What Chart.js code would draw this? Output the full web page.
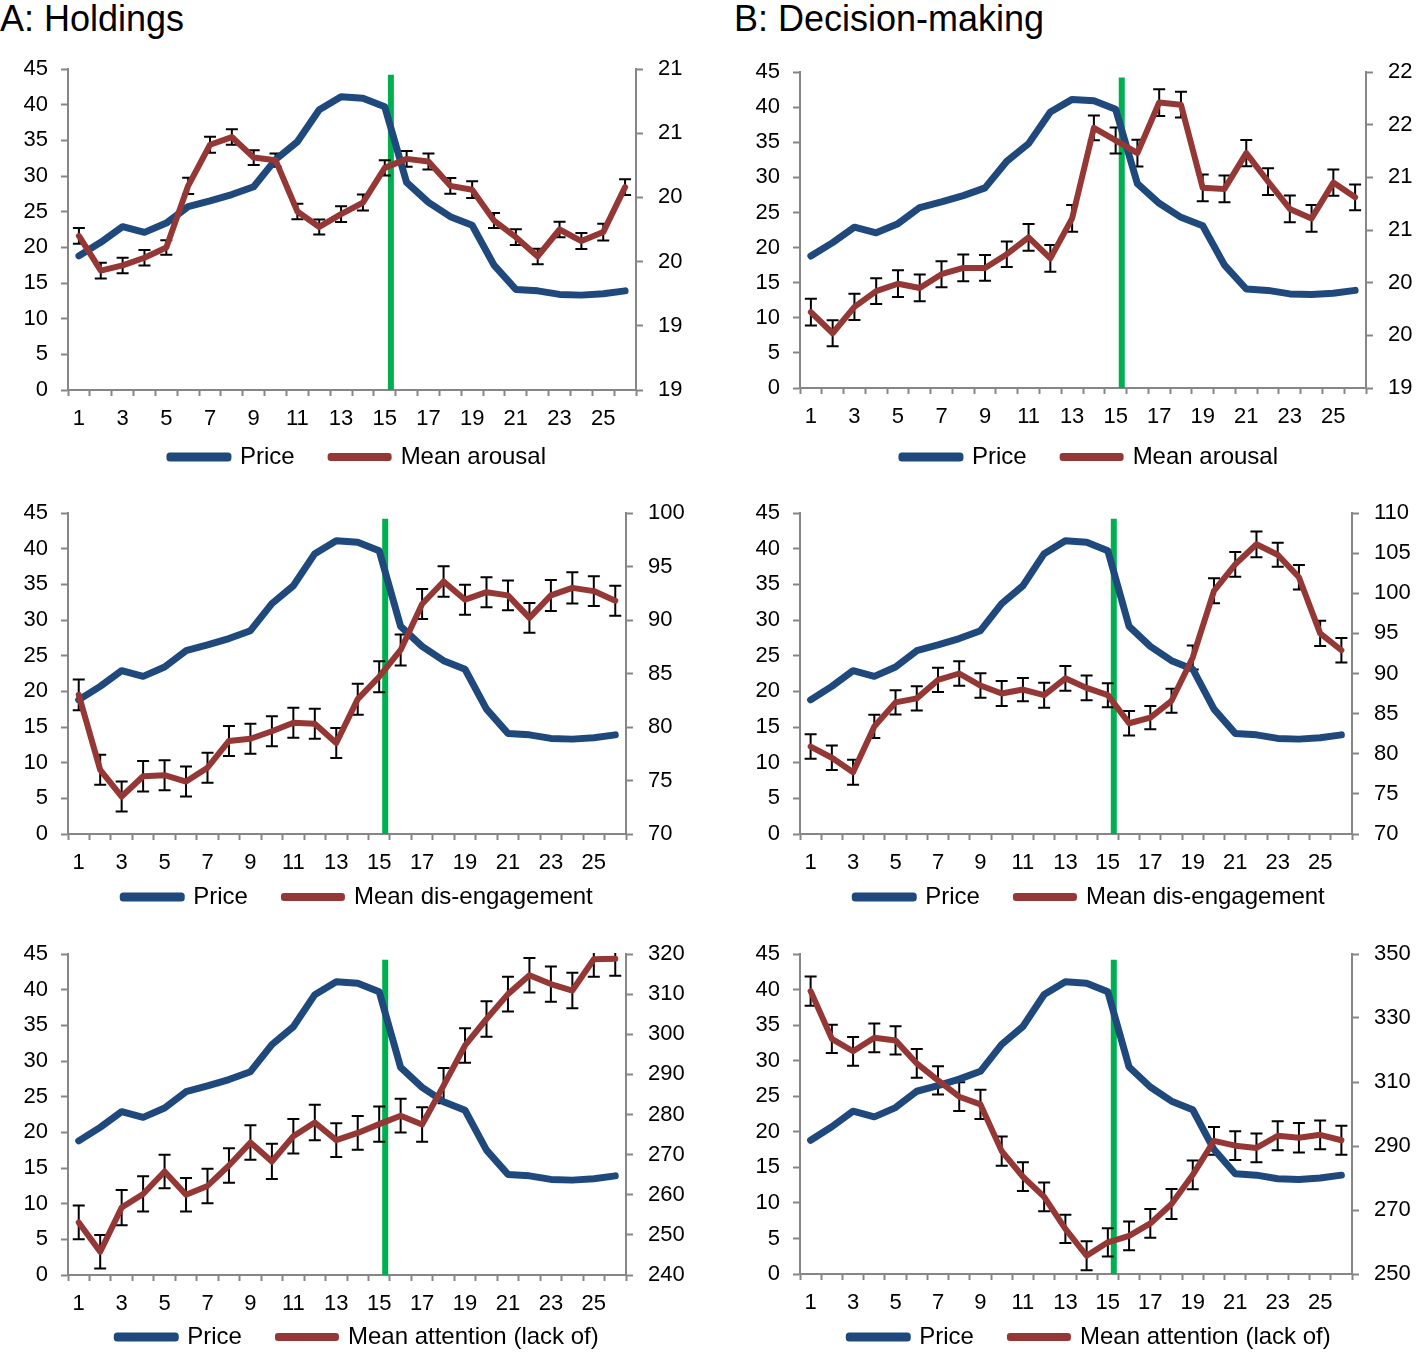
<!DOCTYPE html>
<html>
<head>
<meta charset="utf-8">
<script src="https://cdn.jsdelivr.net/npm/chart.js@4.4.1/dist/chart.umd.min.js"></script>
<style>
  html, body { margin: 0; padding: 0; background: #fff; }
  body { width: 1417px; height: 1354px; position: relative; overflow: hidden; font-family: 'Liberation Sans', Arial, sans-serif; }
  .title { position: absolute; font-size: 36px; line-height: 36px; color: #000; white-space: nowrap; }
  canvas { position: absolute; }
</style>
</head>
<body>
<div class="title" style="left:0;top:1px">A: Holdings</div>
<div class="title" style="left:734px;top:1px">B: Decision-making</div>

<script>
// ── data ─────────────────────────────────────────────────────────
const periods = ['1','2','3','4','5','6','7','8','9','10','11','12','13',
                 '14','15','16','17','18','19','20','21','22','23','24','25','26'];

const price = [18.8, 20.7, 22.9, 22.1, 23.4, 25.7, 26.5, 27.4, 28.5, 32.3, 34.8, 39.3, 41.1,
               40.9, 39.7, 29.1, 26.3, 24.3, 23.1, 17.5, 14.1, 13.9, 13.4, 13.3, 13.5, 13.9];

const arousalHold    = [19.95, 19.68, 19.72, 19.78, 19.86, 20.34, 20.66, 20.72, 20.56, 20.54, 20.14, 20.02, 20.12,
                        20.21, 20.48, 20.55, 20.53, 20.34, 20.31, 20.07, 19.94, 19.79, 20.00, 19.91, 19.98, 20.33];
const arousalHoldErr = [0.061, 0.061, 0.060, 0.061, 0.056, 0.064, 0.062, 0.060, 0.058, 0.052, 0.060, 0.058, 0.062,
                        0.062, 0.060, 0.061, 0.062, 0.061, 0.065, 0.058, 0.061, 0.061, 0.061, 0.062, 0.065, 0.061];

const arousalDec     = [19.97, 19.77, 20.02, 20.17, 20.24, 20.20, 20.33, 20.39, 20.39, 20.52, 20.68, 20.48, 20.86,
                        21.72, 21.60, 21.48, 21.96, 21.94, 21.15, 21.14, 21.48, 21.21, 20.95, 20.86, 21.20, 21.06];
const arousalDecErr  = [0.127, 0.124, 0.124, 0.122, 0.127, 0.127, 0.124, 0.127, 0.122, 0.122, 0.126, 0.127, 0.127,
                        0.118, 0.124, 0.127, 0.127, 0.122, 0.127, 0.127, 0.124, 0.127, 0.127, 0.127, 0.124, 0.122];

const disengHold     = [83.0, 76.0, 73.5, 75.4, 75.5, 74.9, 76.2, 78.7, 78.9, 79.6, 80.4, 80.3, 78.5,
                        82.6, 84.7, 87.2, 91.5, 93.6, 91.9, 92.6, 92.3, 90.2, 92.3, 93.0, 92.7, 91.8];
const disengHoldErr  = [1.43, 1.40, 1.40, 1.43, 1.40, 1.40, 1.40, 1.40, 1.40, 1.40, 1.40, 1.40, 1.40,
                        1.45, 1.45, 1.45, 1.40, 1.43, 1.40, 1.40, 1.40, 1.40, 1.45, 1.46, 1.40, 1.40];

const disengDec      = [80.9, 79.5, 77.7, 83.4, 86.4, 86.9, 89.2, 90.0, 88.5, 87.5, 88.0, 87.3, 89.4,
                        88.2, 87.3, 83.8, 84.5, 86.6, 92.0, 100.3, 103.6, 106.1, 104.8, 102.0, 95.0, 92.9];
const disengDecErr   = [1.52, 1.54, 1.56, 1.45, 1.50, 1.50, 1.52, 1.52, 1.52, 1.56, 1.45, 1.56, 1.54,
                        1.54, 1.50, 1.52, 1.45, 1.50, 1.50, 1.56, 1.54, 1.60, 1.50, 1.52, 1.58, 1.52];

const attnHold       = [253.1, 245.8, 256.8, 260.2, 265.8, 260.0, 262.2, 267.3, 273.0, 268.3, 274.6, 278.0, 273.6,
                        275.4, 277.6, 279.7, 277.5, 287.2, 297.2, 303.8, 310.0, 314.7, 312.5, 310.9, 318.7, 318.8];
const attnHoldErr    = [4.2, 4.2, 4.4, 4.4, 4.2, 4.2, 4.3, 4.3, 4.3, 4.4, 4.3, 4.4, 4.2,
                        4.2, 4.4, 4.2, 4.3, 4.4, 4.3, 4.4, 4.3, 4.3, 4.4, 4.4, 4.4, 4.2];

const attnDec        = [338.4, 323.5, 319.6, 323.8, 323.0, 315.8, 310.5, 305.4, 303.0, 288.4, 280.4, 274.1, 264.1,
                        255.7, 259.9, 261.9, 265.8, 271.9, 281.0, 291.6, 290.1, 289.4, 293.2, 292.6, 293.5, 291.8];
const attnDecErr     = [4.6, 4.4, 4.5, 4.5, 4.4, 4.5, 4.4, 4.5, 4.6, 4.6, 4.5, 4.5, 4.4,
                        4.5, 4.4, 4.5, 4.5, 4.7, 4.5, 4.3, 4.5, 4.5, 4.5, 4.6, 4.5, 4.5];

const priceTicks = { min: 0, max: 45, step: 5 };
const crashAt = 15.28;   // green marker, in period units
const crashTop = 44.2;   // top of marker on the price axis

// ── styling ──────────────────────────────────────────────────────
const AXIS_GREY = '#868686';
const PRICE_BLUE = '#1f497d';
const MEAN_RED = '#953735';
const CRASH_GREEN = '#00b050';
const FONT = "'Liberation Sans', Arial, sans-serif";

// canvas boxes; B canvases run past the right edge so the legend centres like the original
const panels = [
  { label: 'Mean arousal', values: arousalHold, errors: arousalHoldErr, rMin: 18.75, rMax: 21.25, rStep: 0.5,
    left: 0, width: 716, plotLeft: 68, plotRight: 636, plotTop: 69, plotBottom: 390, legendY: 457 },
  { label: 'Mean arousal', values: arousalDec, errors: arousalDecErr, rMin: 19.25, rMax: 22.25, rStep: 0.5,
    left: 720, width: 740, plotLeft: 800, plotRight: 1366, plotTop: 72, plotBottom: 388, legendY: 457 },
  { label: 'Mean dis-engagement', values: disengHold, errors: disengHoldErr, rMin: 70, rMax: 100, rStep: 5,
    left: 0, width: 716, plotLeft: 68, plotRight: 626, plotTop: 513, plotBottom: 834, legendY: 897 },
  { label: 'Mean dis-engagement', values: disengDec, errors: disengDecErr, rMin: 70, rMax: 110, rStep: 5,
    left: 720, width: 740, plotLeft: 800, plotRight: 1352, plotTop: 513, plotBottom: 834, legendY: 897 },
  { label: 'Mean attention (lack of)', values: attnHold, errors: attnHoldErr, rMin: 240, rMax: 320, rStep: 10,
    left: 0, width: 716, plotLeft: 68, plotRight: 626, plotTop: 954, plotBottom: 1275, legendY: 1337 },
  { label: 'Mean attention (lack of)', values: attnDec, errors: attnDecErr, rMin: 250, rMax: 350, rStep: 20,
    left: 720, width: 740, plotLeft: 800, plotRight: 1352, plotTop: 954, plotBottom: 1274, legendY: 1337 }
];

function makePanel(p) {
  const areaTop = 30, legendPad = 36, legendFont = 24;
  const legendH = legendFont + legendPad + 10;
  const xAxisH = Math.round(p.legendY - p.plotBottom - (legendPad + legendFont / 2));
  const canvasH = areaTop + (p.plotBottom - p.plotTop) + xAxisH + legendH;
  const yLeftW = p.plotLeft - p.left;
  const yRightW = (p.left + p.width) - p.plotRight;

  const canvas = document.createElement('canvas');
  canvas.width = p.width;
  canvas.height = canvasH;
  canvas.style.left = p.left + 'px';
  canvas.style.top = (p.plotTop - areaTop) + 'px';
  canvas.style.width = p.width + 'px';
  canvas.style.height = canvasH + 'px';
  document.body.appendChild(canvas);

  // green crash marker + error bars, both under the lines
  const underlay = {
    id: 'underlay',
    beforeDatasetsDraw(chart) {
      const { ctx, chartArea } = chart;
      const xs = chart.scales.x, yl = chart.scales.y, yr = chart.scales.y2;
      const i0 = Math.floor(crashAt) - 1;
      const frac = crashAt - Math.floor(crashAt);
      const gx = xs.getPixelForValue(i0) + frac * (xs.getPixelForValue(i0 + 1) - xs.getPixelForValue(i0));
      ctx.save();
      ctx.strokeStyle = CRASH_GREEN;
      ctx.lineWidth = 6;
      ctx.beginPath();
      ctx.moveTo(gx, yl.getPixelForValue(crashTop));
      ctx.lineTo(gx, chartArea.bottom);
      ctx.stroke();

      ctx.beginPath();
      ctx.rect(chartArea.left, chartArea.top - 1, chartArea.right - chartArea.left, chartArea.bottom - chartArea.top + 1);
      ctx.clip();
      ctx.strokeStyle = '#000';
      ctx.lineWidth = 2;
      ctx.beginPath();
      p.values.forEach((v, i) => {
        const x = xs.getPixelForValue(i);
        const yt = yr.getPixelForValue(v + p.errors[i]);
        const yb = yr.getPixelForValue(v - p.errors[i]);
        ctx.moveTo(x, yt); ctx.lineTo(x, yb);
        ctx.moveTo(x - 6, yt); ctx.lineTo(x + 6, yt);
        ctx.moveTo(x - 6, yb); ctx.lineTo(x + 6, yb);
      });
      ctx.stroke();
      ctx.restore();
    }
  };

  const tickFont = { family: FONT, size: 22 };
  const gridStyle = { drawOnChartArea: false, drawTicks: true, tickLength: 7, tickWidth: 2, tickColor: AXIS_GREY };
  const border = { display: true, color: AXIS_GREY, width: 2 };

  new Chart(canvas, {
    type: 'line',
    data: {
      labels: periods,
      datasets: [
        {
          label: 'Price', data: price, yAxisID: 'y', order: 1,
          borderColor: PRICE_BLUE, backgroundColor: PRICE_BLUE, borderWidth: 7,
          borderJoinStyle: 'round', borderCapStyle: 'round', pointRadius: 0, tension: 0
        },
        {
          label: p.label, data: p.values, yAxisID: 'y2', order: 0,
          borderColor: MEAN_RED, backgroundColor: MEAN_RED, borderWidth: 6,
          borderJoinStyle: 'round', borderCapStyle: 'round', pointRadius: 0, tension: 0
        }
      ]
    },
    options: {
      responsive: false,
      animation: false,
      devicePixelRatio: 1,
      layout: { padding: { top: areaTop, left: 0, right: 0, bottom: 0 } },
      plugins: {
        legend: {
          position: 'bottom',
          labels: {
            boxWidth: 58, boxHeight: 2, padding: legendPad, color: '#000',
            font: { family: FONT, size: legendFont },
            sort: (a, b) => a.datasetIndex - b.datasetIndex
          }
        },
        tooltip: { enabled: false }
      },
      scales: {
        x: {
          type: 'category',
          offset: true,
          afterFit: s => {
            s.height = xAxisH;
            s._computeLabelArea = () => undefined;   // the axis box is short; let the labels overhang it
          },
          grid: { offset: true, drawOnChartArea: false, drawTicks: true, tickLength: 6, tickWidth: 2, tickColor: AXIS_GREY },
          border: border,
          ticks: {
            autoSkip: false, maxRotation: 0, padding: 10, color: '#000', font: tickFont,
            callback: (v, i) => (i % 2 === 0 ? periods[i] : '')
          }
        },
        y: {
          position: 'left',
          min: priceTicks.min, max: priceTicks.max,
          afterFit: s => { s.width = yLeftW; },
          grid: gridStyle,
          border: border,
          ticks: { stepSize: priceTicks.step, padding: 13, color: '#000', font: tickFont }
        },
        y2: {
          position: 'right',
          min: p.rMin, max: p.rMax,
          afterFit: s => { s.width = yRightW; },
          grid: gridStyle,
          border: border,
          ticks: { stepSize: p.rStep, padding: 15, color: '#000', font: tickFont, callback: v => Math.round(v) }
        }
      }
    },
    plugins: [underlay]
  });
}

panels.forEach(makePanel);
</script>
</body>
</html>
